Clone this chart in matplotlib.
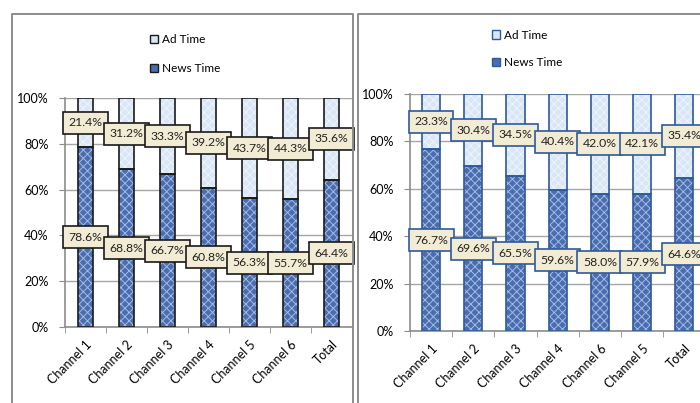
import matplotlib.pyplot as plt
from matplotlib.lines import Line2D
from matplotlib.patches import Patch

plt.rcParams['font.family'] = ['Lato', 'DejaVu Sans']
plt.rcParams['hatch.linewidth'] = 0.7

# left chart: channels in order
left_cats = ['Channel 1', 'Channel 2', 'Channel 3', 'Channel 4', 'Channel 5', 'Channel 6', 'Total']
left_news = [78.6, 68.8, 66.7, 60.8, 56.3, 55.7, 64.4]
left_ad = [21.4, 31.2, 33.3, 39.2, 43.7, 44.3, 35.6]

# right chart: second period, channel 6 before channel 5
right_cats = ['Channel 1', 'Channel 2', 'Channel 3', 'Channel 4', 'Channel 6', 'Channel 5', 'Total']
right_news = [76.7, 69.6, 65.5, 59.6, 58.0, 57.9, 64.6]
right_ad = [23.3, 30.4, 34.5, 40.4, 42.0, 42.1, 35.4]

news_col = '#4a6db0'
news_hatch = '#a3bbe3'
ad_col = '#d9e6f6'
ad_hatch = '#eef4fc'
box_fill = '#f3ecd4'

fig = plt.figure(figsize=(7, 4.03), dpi=100)

# chart frames
grey = '#8c8c8c'
fr = dict(color=grey, lw=1.4, transform=fig.transFigure)
top = 1 - 14 / 403
x0, x1 = 12 / 700, 353 / 700
fig.add_artist(Line2D([x0, x0, x1, x1], [0, top, top, 0], **fr))
x2 = 358 / 700
fig.add_artist(Line2D([x2, x2, 1.01], [0, top, top], **fr))


def draw(ax, cats, news, ad, width, edge, box_edge):
    x = range(len(cats))
    ax.bar(x, news, width, color=news_col, lw=0, zorder=2)
    ax.bar(x, news, width, color='none', edgecolor=news_hatch, hatch='xxxx', lw=0, zorder=3)
    ax.bar(x, ad, width, bottom=news, color=ad_col, lw=0, zorder=2)
    ax.bar(x, ad, width, bottom=news, color='none', edgecolor=ad_hatch, hatch='xxxx', lw=0, zorder=3)
    ax.bar(x, news, width, color='none', edgecolor=edge, lw=1.2, zorder=4)
    ax.bar(x, ad, width, bottom=news, color='none', edgecolor=edge, lw=1.2, zorder=4)

    box = dict(boxstyle='square,pad=0.45', fc=box_fill, ec=box_edge, lw=1.2)
    for i in x:
        ax.text(i, news[i] / 2, f'{news[i]:.1f}%', ha='center', va='center',
                fontsize=8.8, color='#222222', bbox=box, zorder=6)
        ax.text(i, news[i] + ad[i] / 2, f'{ad[i]:.1f}%', ha='center', va='center',
                fontsize=8.8, color='#222222', bbox=box, zorder=6)

    ax.set_xlim(-0.5, len(cats) - 0.5)
    ax.set_ylim(0, 100)
    ax.set_yticks(range(0, 101, 20))
    ax.set_yticklabels([f'{v}%' for v in range(0, 101, 20)], fontsize=9)
    ax.yaxis.grid(True, color='#a6a6a6', lw=1, zorder=0)
    ax.set_axisbelow(True)
    ax.set_xticks(list(x))
    ax.set_xticklabels(cats, rotation=45, ha='right', rotation_mode='anchor', fontsize=9)
    ax.set_xticks([i + 0.5 for i in range(-1, len(cats))], minor=True)
    ax.tick_params(axis='x', which='major', length=0, pad=8)
    ax.tick_params(axis='x', which='minor', length=4, color=grey)
    ax.tick_params(axis='y', length=4, color=grey, pad=8)
    for s in ['top', 'right']:
        ax.spines[s].set_visible(False)
    for s in ['left', 'bottom']:
        ax.spines[s].set_color(grey)
        ax.spines[s].set_linewidth(1.2)

    handles = [Patch(fc=ad_col, ec=edge, lw=1), Patch(fc=news_col, ec=edge, lw=1)]
    return handles


ax1 = fig.add_axes([65 / 700, 1 - 327 / 403, 287 / 700, 229 / 403])
h1 = draw(ax1, left_cats, left_news, left_ad, 0.39, '#1a1a1a', '#1a1a1a')
fig.legend(h1, ['Ad Time', 'News Time'], loc='center', bbox_to_anchor=(185 / 700, 1 - 54 / 403),
           frameon=False, fontsize=8.5, handlelength=0.7, handleheight=0.7,
           handletextpad=0.3, labelspacing=1.5)

ax2 = fig.add_axes([410 / 700, 1 - 331 / 403, 295.4 / 700, 237 / 403])
h2 = draw(ax2, right_cats, right_news, right_ad, 0.43, '#2f5a9a', '#2f5a9a')
fig.legend(h2, ['Ad Time', 'News Time'], loc='center', bbox_to_anchor=(527 / 700, 1 - 49 / 403),
           frameon=False, fontsize=8.5, handlelength=0.7, handleheight=0.7,
           handletextpad=0.3, labelspacing=1.4)

fig.savefig('out.png', dpi=100)
